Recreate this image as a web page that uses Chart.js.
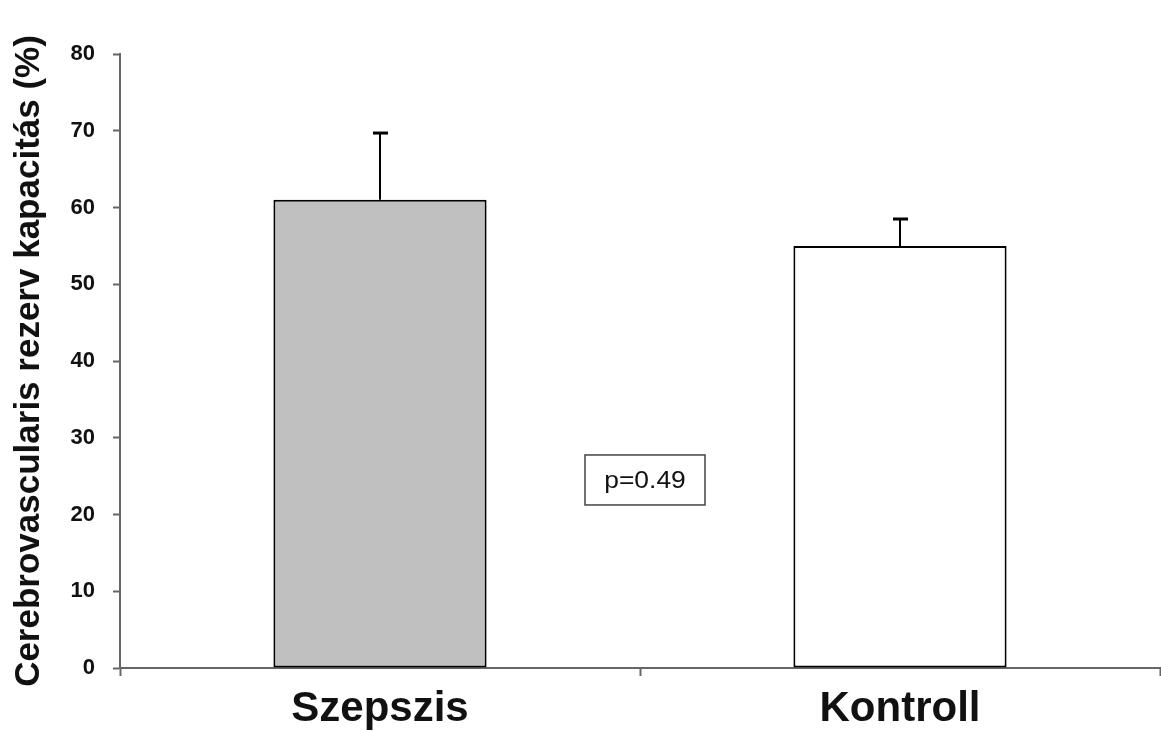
<!DOCTYPE html>
<html>
<head>
<meta charset="utf-8">
<script src="https://cdn.jsdelivr.net/npm/chart.js@4"></script>
<style>
  html, body { margin: 0; padding: 0; background: #fff; }
  #wrap { width: 1161px; height: 731px; }
</style>
</head>
<body>
<div id="wrap"><canvas id="myChart" width="1161" height="731"></canvas></div>
<script>
const ctx = document.getElementById("myChart");

// chart data
const groups = ["Szepszis", "Kontroll"];
const means = [61, 55];
const errorsUp = [8.7, 3.5];
const barColors = ["#c0c0c0", "#ffffff"];
const yTicks = [0, 10, 20, 30, 40, 50, 60, 70, 80];
const pLabel = "p=0.49";
const pLabelY = 24.5;

// draws the upper error bars and the p-value box
const extrasPlugin = {
    id: "extras",
    afterDatasetsDraw(chart) {
        const c = chart.ctx;
        const x = chart.scales.x;
        const y = chart.scales.y;
        c.save();
        c.strokeStyle = "#000";
        means.forEach((m, i) => {
            const cx = x.getPixelForValue(i);
            const top = y.getPixelForValue(m + errorsUp[i]);
            const base = y.getPixelForValue(m);
            c.lineWidth = 2;
            c.beginPath();
            c.moveTo(cx, base);
            c.lineTo(cx, top);
            c.stroke();
            c.lineWidth = 3;
            c.beginPath();
            c.moveTo(cx - 7, top);
            c.lineTo(cx + 8, top);
            c.stroke();
        });

        // p value box in the middle of the two groups
        const mx = (x.getPixelForValue(0) + x.getPixelForValue(1)) / 2 + 5;
        const my = y.getPixelForValue(pLabelY);
        c.fillStyle = "#fff";
        c.fillRect(mx - 60, my - 25, 120, 50);
        c.lineWidth = 1.5;
        c.strokeStyle = "#444";
        c.strokeRect(mx - 60, my - 25, 120, 50);
        c.translate(mx, my + 1);
        c.scale(1.1, 1);
        c.font = "24px 'Liberation Sans', Arial, sans-serif";
        c.textAlign = "center";
        c.textBaseline = "middle";
        c.fillStyle = "#111";
        c.fillText(pLabel, 0, 0);
        c.restore();
    }
};

const chart = new Chart(ctx, {
    type: "bar",
    data: {
        labels: groups,
        datasets: [
            {
                data: means,
                backgroundColor: barColors,
                borderColor: "#000",
                borderWidth: 2,
                borderSkipped: false,
                categoryPercentage: 0.82,
                barPercentage: 0.5
            }
        ]
    },
    options: {
        responsive: false,
        animation: false,
        layout: {
            padding: { top: 54, right: 1, left: 0, bottom: 0 }
        },
        scales: {
            y: {
                min: 0,
                max: 80,
                afterBuildTicks: (scale) => {
                    scale.ticks = yTicks.map((v) => ({ value: v }));
                },
                afterFit: (scale) => {
                    scale.width = 120;
                },
                border: { color: "#666", width: 2 },
                grid: {
                    drawOnChartArea: false,
                    drawTicks: true,
                    tickLength: 7,
                    tickWidth: 2,
                    tickColor: "#666"
                },
                ticks: {
                    color: "#111",
                    padding: 18,
                    font: { family: "'Liberation Sans', Arial, sans-serif", size: 22, weight: "bold" }
                },
                title: {
                    display: true,
                    text: "Cerebrovascularis rezerv kapacitás (%)",
                    color: "#111",
                    padding: { top: 8, bottom: 6 },
                    font: { family: "'Liberation Sans Narrow', 'Liberation Sans', sans-serif", size: 35, weight: "bold" }
                }
            },
            x: {
                afterFit: (scale) => {
                    scale.height = 63;
                },
                border: { color: "#666", width: 2 },
                grid: {
                    offset: true,
                    drawOnChartArea: false,
                    drawTicks: true,
                    tickLength: 8,
                    tickWidth: 2,
                    tickColor: "#666"
                },
                ticks: {
                    color: "#111",
                    padding: 8,
                    font: { family: "'Liberation Sans', Arial, sans-serif", size: 42, weight: "bold" }
                }
            }
        },
        plugins: {
            legend: { display: false },
            tooltip: { enabled: false }
        }
    },
    plugins: [extrasPlugin]
});
</script>
</body>
</html>
